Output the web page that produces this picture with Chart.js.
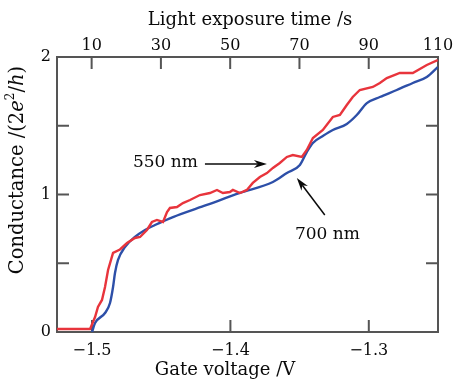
<!DOCTYPE html>
<html>
<head>
<meta charset="utf-8">
<script src="https://cdn.jsdelivr.net/npm/chart.js@4.4.1/dist/chart.umd.min.js"></script>
<style>
  html, body { margin: 0; padding: 0; background: #fff; }
  #wrap { width: 453px; height: 379px; }
</style>
</head>
<body>
<div id="wrap"><canvas id="chart"></canvas></div>
<script>
// ── Data ──
const gate550 = [-1.5253, -1.5014, -1.4978, -1.4957, -1.4928, -1.4906, -1.4884, -1.4848, -1.4798, -1.4747,
  -1.469, -1.4653, -1.4603, -1.4567, -1.4531, -1.4487, -1.4458, -1.4437, -1.4386, -1.4343,
  -1.4292, -1.422, -1.4148, -1.4097, -1.4054, -1.4004, -1.3982, -1.3931, -1.3881, -1.3838,
  -1.3787, -1.3736, -1.3693, -1.3643, -1.3592, -1.3549, -1.3484, -1.3448, -1.3404, -1.3332,
  -1.326, -1.3209, -1.3159, -1.3116, -1.3065, -1.2971, -1.292, -1.287, -1.2776, -1.2682,
  -1.2581, -1.2502];
const cond550 = [0.022, 0.022, 0.109, 0.182, 0.233, 0.327, 0.451, 0.575, 0.60, 0.647,
  0.684, 0.691, 0.742, 0.80, 0.815, 0.80, 0.873, 0.902, 0.909, 0.938,
  0.96, 0.996, 1.011, 1.033, 1.011, 1.018, 1.033, 1.011, 1.033, 1.084,
  1.127, 1.156, 1.193, 1.229, 1.273, 1.287, 1.273, 1.324, 1.411, 1.469,
  1.564, 1.578, 1.651, 1.709, 1.76, 1.782, 1.811, 1.847, 1.884, 1.884,
  1.942, 1.978];

const gate700 = [-1.5, -1.4978, -1.4906, -1.487, -1.4848, -1.4834, -1.4812, -1.4762, -1.469, -1.4617,
  -1.4545, -1.4415, -1.417, -1.3931, -1.3693, -1.3592, -1.3498, -1.3448, -1.3404, -1.3332,
  -1.326, -1.3159, -1.3087, -1.3014, -1.292, -1.2798, -1.2682, -1.2581, -1.2502];
const cond700 = [0, 0.065, 0.138, 0.211, 0.327, 0.429, 0.524, 0.618, 0.691, 0.742,
  0.778, 0.836, 0.924, 1.011, 1.091, 1.156, 1.215, 1.309, 1.375, 1.425,
  1.469, 1.513, 1.578, 1.665, 1.709, 1.76, 1.811, 1.855, 1.927];

const gateTicks = [-1.5, -1.4, -1.3];
const gateTickLabels = ['\u22121.5', '\u22121.4', '\u22121.3'];
const timeTicks = [10, 30, 50, 70, 90, 110];
const timeTickLabels = ['10', '30', '50', '70', '90', '110'];
const condTicks = [0, 0.5, 1, 1.5, 2];
const condTickLabels = ['0', '', '1', '', '2'];

const SERIF = '"DejaVu Serif", serif';
const AXIS_COLOR = '#555555';
const TEXT_COLOR = '#0a0a0a';

const toPoints = (xs, ys) => xs.map((x, i) => ({ x, y: ys[i] }));

// ── Frame, inward ticks, titles and arrows ──
const decorPlugin = {
  id: 'decor',
  beforeDatasetsDraw(chart) {
    const { ctx, chartArea: a, scales } = chart;
    ctx.save();
    ctx.strokeStyle = AXIS_COLOR;
    ctx.lineWidth = 2;
    ctx.strokeRect(a.left, a.top, a.right - a.left, a.bottom - a.top);

    const len = 12;
    ctx.beginPath();
    gateTicks.forEach(v => {
      const x = scales.x.getPixelForValue(v);
      ctx.moveTo(x, a.bottom); ctx.lineTo(x, a.bottom - len);
    });
    timeTicks.forEach(v => {
      const x = scales.x2.getPixelForValue(v);
      ctx.moveTo(x, a.top); ctx.lineTo(x, a.top + len);
    });
    condTicks.forEach(v => {
      const y = scales.y.getPixelForValue(v);
      ctx.moveTo(a.left, y); ctx.lineTo(a.left + len, y);
      ctx.moveTo(a.right, y); ctx.lineTo(a.right - len, y);
    });
    ctx.stroke();
    ctx.restore();
  },
  afterDraw(chart) {
    const { ctx, scales } = chart;
    ctx.save();
    ctx.fillStyle = TEXT_COLOR;
    ctx.textBaseline = 'middle';
    ctx.textAlign = 'center';
    ctx.font = '18px ' + SERIF;
    ctx.fillText('Light exposure time /s', 250, 20);
    ctx.fillText('Gate voltage /V', 225, 370);

    // y title with italics and superscript
    const parts = [
      { t: 'Conductance /(2', f: '19.5px ' + SERIF, dy: 0 },
      { t: 'e', f: 'italic 19.5px ' + SERIF, dy: 0 },
      { t: '2', f: '12px ' + SERIF, dy: -7 },
      { t: '/', f: '19.5px ' + SERIF, dy: 0 },
      { t: 'h', f: 'italic 19.5px ' + SERIF, dy: 0 },
      { t: ')', f: '19.5px ' + SERIF, dy: 0 },
    ];
    ctx.translate(18, 170);
    ctx.rotate(-Math.PI / 2);
    ctx.textAlign = 'left';
    let total = 0;
    parts.forEach(p => { ctx.font = p.f; p.w = ctx.measureText(p.t).width; total += p.w; });
    let cx = -total / 2;
    parts.forEach(p => { ctx.font = p.f; ctx.fillText(p.t, cx, p.dy); cx += p.w; });
    ctx.restore();

    // annotations
    const px = v => scales.x.getPixelForValue(v);
    const py = v => scales.y.getPixelForValue(v);
    ctx.save();
    ctx.fillStyle = TEXT_COLOR;
    ctx.strokeStyle = TEXT_COLOR;
    ctx.font = '17px ' + SERIF;
    ctx.textBaseline = 'middle';
    ctx.textAlign = 'right';
    ctx.fillText('550 nm', px(-1.4235), py(1.229));
    ctx.textAlign = 'left';
    ctx.fillText('700 nm', px(-1.3534), py(0.705));
    drawArrow(ctx, px(-1.4184), py(1.222), px(-1.3736), py(1.222));
    drawArrow(ctx, px(-1.3318), py(0.851), px(-1.352), py(1.12));
    ctx.restore();
  }
};

function drawArrow(ctx, x1, y1, x2, y2) {
  const ang = Math.atan2(y2 - y1, x2 - x1);
  const head = 13, half = 4;
  ctx.lineWidth = 1.5;
  ctx.beginPath();
  ctx.moveTo(x1, y1);
  ctx.lineTo(x2 - Math.cos(ang) * head * 0.7, y2 - Math.sin(ang) * head * 0.7);
  ctx.stroke();
  ctx.beginPath();
  ctx.moveTo(x2, y2);
  ctx.lineTo(x2 - Math.cos(ang) * head + Math.sin(ang) * half, y2 - Math.sin(ang) * head - Math.cos(ang) * half);
  ctx.lineTo(x2 - Math.cos(ang) * head * 0.7, y2 - Math.sin(ang) * head * 0.7);
  ctx.lineTo(x2 - Math.cos(ang) * head - Math.sin(ang) * half, y2 - Math.sin(ang) * head + Math.cos(ang) * half);
  ctx.closePath();
  ctx.fill();
}

function fixSize(prop, size) {
  return scale => {
    scale[prop] = size;
    scale.paddingLeft = scale.paddingRight = scale.paddingTop = scale.paddingBottom = 0;
  };
}

const tickFont = { family: SERIF, size: 16 };

new Chart(document.getElementById('chart'), {
  type: 'line',
  data: {
    datasets: [
      {
        label: '550 nm',
        data: toPoints(gate550, cond550),
        borderColor: '#e8343c',
        borderWidth: 2.4,
        pointRadius: 0,
        tension: 0,
      },
      {
        label: '700 nm',
        data: toPoints(gate700, cond700),
        borderColor: '#2d4fa8',
        borderWidth: 2.4,
        pointRadius: 0,
        cubicInterpolationMode: 'monotone',
      }
    ]
  },
  options: {
    responsive: true,
    maintainAspectRatio: false,
    animation: false,
    layout: { padding: { right: 15, top: 0, left: 0, bottom: 0 } },
    plugins: { legend: { display: false }, tooltip: { enabled: false } },
    scales: {
      x: {
        type: 'linear', position: 'bottom', min: -1.5253, max: -1.25,
        afterBuildTicks: s => { s.ticks = gateTicks.map(value => ({ value })); },
        afterFit: fixSize('height', 47),
        grid: { display: false, drawTicks: false },
        border: { display: false },
        ticks: { padding: 9, color: TEXT_COLOR, font: tickFont, maxRotation: 0, autoSkip: false,
          callback: (v, i) => gateTickLabels[i] }
      },
      x2: {
        type: 'linear', position: 'top', min: 0, max: 110,
        afterBuildTicks: s => { s.ticks = timeTicks.map(value => ({ value })); },
        afterFit: fixSize('height', 57),
        grid: { display: false, drawTicks: false },
        border: { display: false },
        ticks: { padding: 2, color: TEXT_COLOR, font: tickFont, maxRotation: 0, autoSkip: false,
          callback: (v, i) => timeTickLabels[i] }
      },
      y: {
        type: 'linear', min: 0, max: 2,
        afterBuildTicks: s => { s.ticks = condTicks.map(value => ({ value })); },
        afterFit: fixSize('width', 57),
        grid: { display: false, drawTicks: false },
        border: { display: false },
        ticks: { padding: 6, color: TEXT_COLOR, font: tickFont, autoSkip: false,
          callback: (v, i) => condTickLabels[i] }
      }
    }
  },
  plugins: [decorPlugin]
});
</script>
</body>
</html>
